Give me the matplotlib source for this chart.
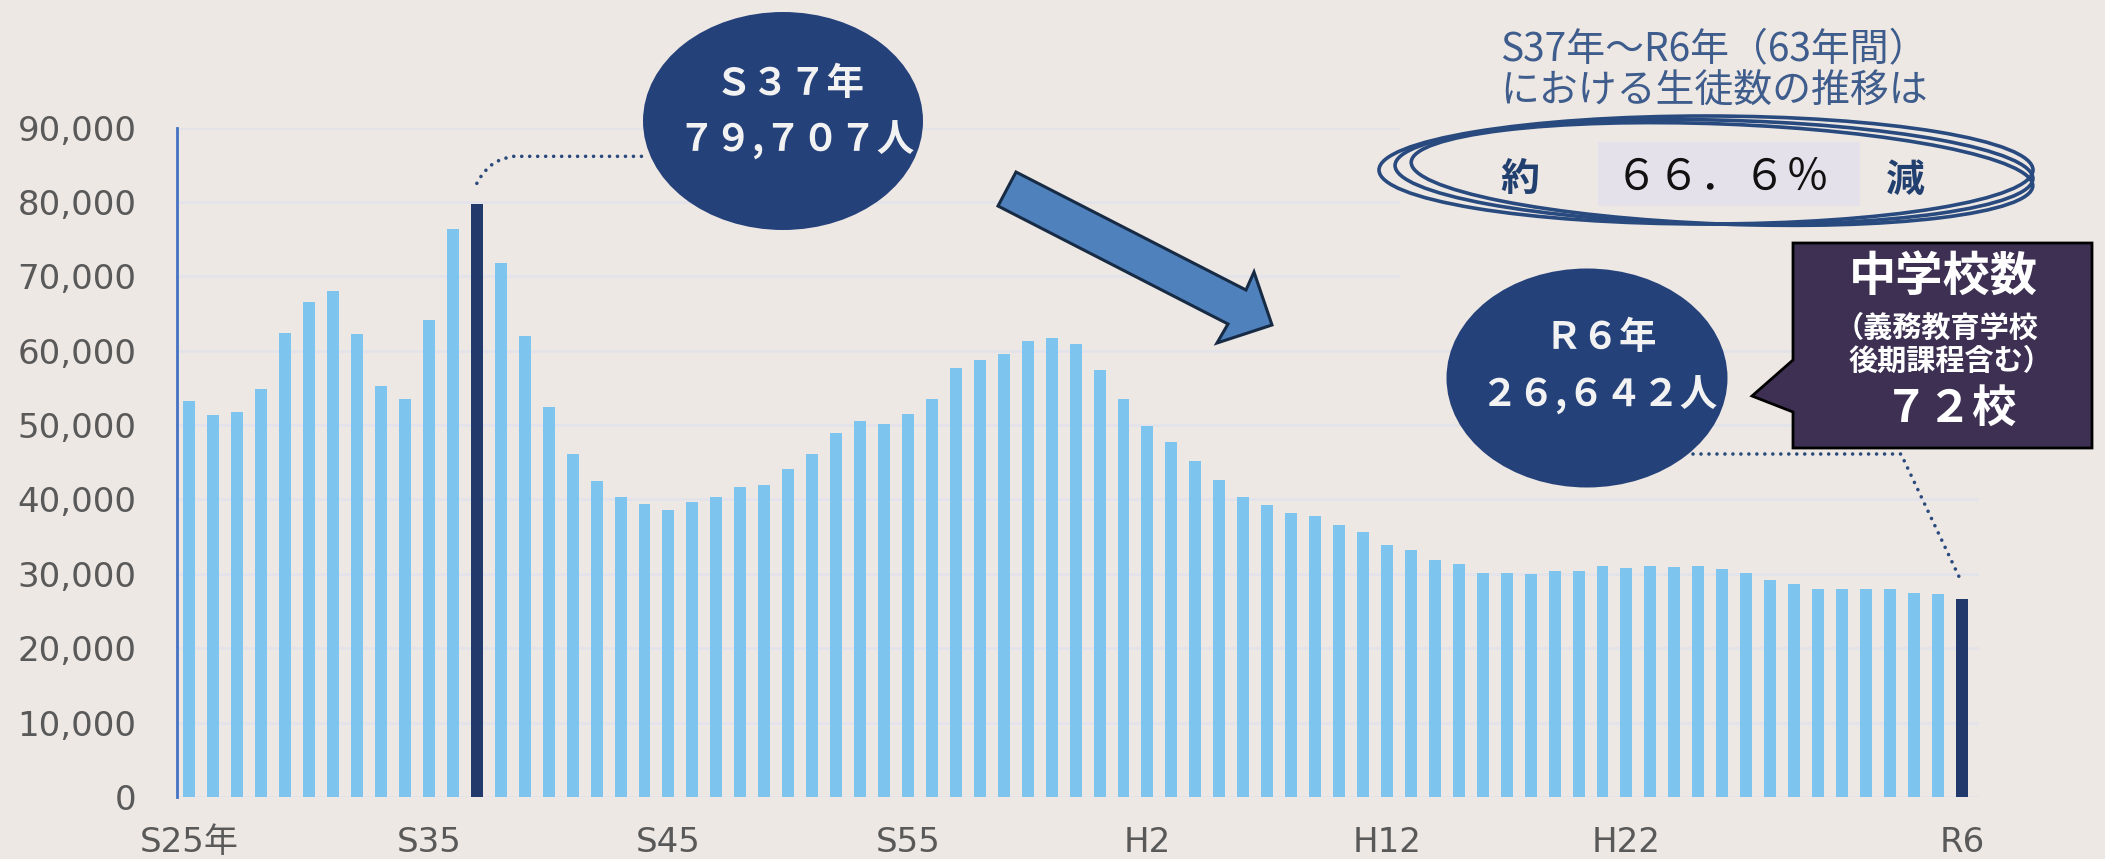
import matplotlib.pyplot as plt
from matplotlib.patches import Ellipse, Polygon, Rectangle

plt.rcParams['font.family'] = ['Noto Sans CJK JP', 'DejaVu Sans']

# 年度 (S25〜S63, H1〜H30, R1〜R6)
years = ([f'S{n}' for n in range(25, 64)] + [f'H{n}' for n in range(1, 31)]
         + [f'R{n}' for n in range(1, 7)])

# 生徒数（人）
students = [53200, 51300, 51800, 54800, 62400, 66600, 68000, 62200, 55300, 53500,
            64100, 76300, 79707, 71800, 62000, 52400, 46100, 42500, 40400, 39400,
            38600, 39600, 40400, 41700, 42000, 44100, 46100, 48900, 50600, 50100,
            51500, 53500, 57700, 58700, 59600, 61300, 61700, 60900, 57400, 53500,
            49900, 47700, 45200, 42600, 40300, 39200, 38200, 37800, 36600, 35600,
            33900, 33200, 31800, 31300, 30100, 30100, 30000, 30400, 30400, 31100,
            30800, 31100, 30900, 31100, 30600, 30100, 29200, 28700, 28000, 28000,
            28000, 28000, 27400, 27300, 26642]

tick_years = ['S25', 'S35', 'S45', 'S55', 'H2', 'H12', 'H22', 'R6']
tick_labels = ['S25年', 'S35', 'S45', 'S55', 'H2', 'H12', 'H22', 'R6']
highlight = ['S37', 'R6']

BG = '#EEE8E4'
LIGHT = '#7DC5EE'
DARK = '#213A6B'
NAVY = '#25417A'

W, H = 2105, 859
fig = plt.figure(figsize=(W / 100, H / 100), dpi=100, facecolor=BG)

# 棒グラフ
ax = fig.add_axes([177 / W, (H - 797) / H, (1979 - 177) / W, (797 - 127.6) / H])
ax.set_facecolor('none')
xs = range(len(years))
colors = [DARK if y in highlight else LIGHT for y in years]
ax.bar(xs, students, width=0.5, color=colors, zorder=2)
ax.set_xlim(-0.52, 74.72)
ax.set_ylim(0, 90000)
ax.set_yticks(range(0, 90001, 10000))
ax.yaxis.set_major_formatter(lambda v, p: f'{int(v):,}')
ax.set_xticks([years.index(t) for t in tick_years], tick_labels)
for s in ['top', 'right', 'bottom']:
    ax.spines[s].set_visible(False)
ax.spines['left'].set_color('#4472C4')
ax.spines['left'].set_linewidth(2)
ax.grid(axis='y', color='#E3E3EA', lw=2)
ax.set_axisbelow(True)
ax.tick_params(length=0, labelsize=24.5, labelcolor='#595959')
ax.tick_params(axis='y', pad=29)
ax.tick_params(axis='x', pad=21)
for lab in ax.get_xticklabels() + ax.get_yticklabels():
    lab.set_family(['DejaVu Sans', 'Noto Sans CJK JP'])

# 注記用のレイヤー（ピクセル座標）
ov = fig.add_axes([0, 0, 1, 1], zorder=5)
ov.set_xlim(0, W)
ov.set_ylim(H, 0)
ov.axis('off')


def px(i, v):
    return ov.transData.inverted().transform(ax.transData.transform((i, v)))


# 右上のグリッド線を隠す
ov.add_patch(Rectangle((1400, 100), 705, 200, fc=BG, ec='none', zorder=0))

dot = dict(color='#2B4A7C', lw=2.6, linestyle=(0, (0.01, 2.2)),
           dash_capstyle='round', zorder=3)
circ_txt = dict(ha='center', va='center', fontsize=27, color='#F2F2F2',
                fontweight='bold', zorder=5)

# S37
sx, sy = px(years.index('S37'), 79707 + 2800)
ov.plot([sx, sx + 6, sx + 14, sx + 24, sx + 36, 645],
        [sy, sy - 10, sy - 18, sy - 24, sy - 27, sy - 27], **dot)
ov.add_patch(Ellipse((783, 121), 280, 218, fc=NAVY, ec='none', zorder=4))
ov.text(790, 84, 'Ｓ３７年', **circ_txt)
ov.text(796, 140, '７９,７０７人', **circ_txt)

# 矢印
arrow = [(1016, 172), (1246, 290), (1254, 272), (1272, 325),
         (1217, 343), (1228, 324), (998, 206)]
ov.add_patch(Polygon(arrow, closed=True, fc='#4F81BD', ec='#172B45',
                     lw=2.2, joinstyle='miter', zorder=4))

# 右上の説明
ov.text(1714, 50, 'S37年〜R6年（63年間）', ha='center', va='center',
        fontsize=28, color='#3E5C8C')
ov.text(1714, 92, 'における生徒数の推移は', ha='center', va='center',
        fontsize=28, color='#3E5C8C')

ov.add_patch(Rectangle((1598, 142), 262, 64, fc='#E4E1EA', ec='none', zorder=2))
for (cx, cy, w, h, a) in [(1706, 170, 654, 108, 0), (1714, 172, 638, 104, 1.2),
                          (1722, 174, 622, 100, 2.2)]:
    ov.add_patch(Ellipse((cx, cy), w, h, angle=a, fc='none', ec='#284A7E',
                         lw=2.6, zorder=3))
ov.text(1520, 180, '約', ha='center', va='center', fontsize=28,
        fontweight='bold', color='#22406F', zorder=4)
ov.text(1905, 180, '減', ha='center', va='center', fontsize=28,
        fontweight='bold', color='#22406F', zorder=4)
ov.text(1722, 178, '６６．６％', ha='center', va='center', fontsize=31,
        color='#111111', zorder=4)

# R6
ex, ey = px(years.index('R6'), 26642 + 2200)
ov.plot([1693, 1901, ex], [454, 454, ey], **dot)
ov.add_patch(Ellipse((1587, 378), 281, 219, fc=NAVY, ec='none', zorder=4))
ov.text(1601, 337, 'Ｒ６年', **circ_txt)
ov.text(1599, 395, '２６,６４２人', **circ_txt)

# 中学校数の吹き出し
box = [(1793, 243), (2092, 243), (2092, 448), (1793, 448),
       (1793, 412), (1752, 396), (1793, 360)]
ov.add_patch(Polygon(box, closed=True, fc='#3D3052', ec='black', lw=2,
                     joinstyle='miter', zorder=4))
ov.text(1943, 278, '中学校数', ha='center', va='center', fontsize=34,
        fontweight='bold', color='white', zorder=5)
ov.text(1937, 328, '（義務教育学校', ha='center', va='center', fontsize=21,
        fontweight='bold', color='white', zorder=5)
ov.text(1950, 361, '後期課程含む）', ha='center', va='center', fontsize=21,
        fontweight='bold', color='white', zorder=5)
ov.text(1951, 409, '７２校', ha='center', va='center', fontsize=32,
        fontweight='bold', color='white', zorder=5)

fig.savefig('out.png', dpi=100, facecolor=BG)
